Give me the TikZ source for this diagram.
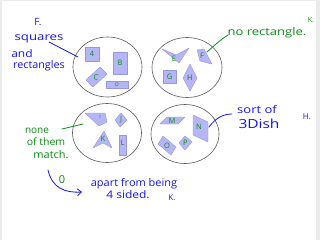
\documentclass[tikz,border=0pt]{standalone}
\usepackage{fontspec}
\setmainfont{Open Sans}
\usetikzlibrary{shapes.geometric,arrows.meta}
\definecolor{penblue}{RGB}{20,20,235}
\definecolor{pengreen}{RGB}{10,140,20}
\definecolor{shapefill}{RGB}{182,182,246}
\definecolor{shapeedge}{RGB}{150,150,225}
\definecolor{ringgray}{RGB}{90,90,90}
\tikzset{
  bluepen/.style={text=penblue, font=\fontsize{10}{10}\selectfont, inner sep=0pt},
  greenpen/.style={text=pengreen, font=\fontsize{10}{10}\selectfont, inner sep=0pt},
  blueline/.style={draw=penblue, line width=0.8pt, line cap=round},
  greenline/.style={draw=pengreen, line width=0.8pt, line cap=round},
  shp/.style={fill=shapefill, draw=shapeedge, line width=0.4pt, line join=round},
  lbl/.style={text=pengreen, font=\fontsize{7.5}{7.5}\selectfont, inner sep=0pt},
  ring/.style={draw=ringgray, ellipse, line width=0.6pt, inner sep=0pt},
}
\begin{document}
\begin{tikzpicture}[x=1pt,y=-1pt]
\useasboundingbox (0,0) rectangle (320,240);
\fill[black!8] (0,0) rectangle (320,240);
\fill[white] (2,1) rectangle (316,240);

% rings
\node[ring, minimum width=69pt, minimum height=60pt] (e1) at (107.5,67) {};
\node[ring, minimum width=70pt, minimum height=60pt] (e2) at (187,67.5) {};
\node[ring, minimum width=69pt, minimum height=59pt] (e3) at (107,133) {};
\node[ring, minimum width=68pt, minimum height=59pt] (e4) at (185,134) {};

% top-left shapes
\filldraw[shp] (85,47) rectangle (99,61);
\node[lbl] (l4) at (92,54) {4};
\filldraw[shp] (113,52) rectangle (127,74);
\node[lbl] (lB) at (120,63) {B};
\filldraw[shp] (86,80) -- (100,67) -- (107,74) -- (93,87) -- cycle;
\node[lbl, rotate=-10] (lC) at (96,77) {C};
\filldraw[shp] (106,81) rectangle (128,88);
\node[lbl, font=\fontsize{5}{5}\selectfont] (lD) at (117,84.5) {D};

% top-right shapes
\filldraw[shp] (162,49) -- (176,55) -- (189,48) -- (179,63) -- cycle;
\node[lbl] (lE) at (174,59) {E};
\filldraw[shp] (197,50) -- (204,49) -- (212,64) -- (200,61) -- cycle;
\node[lbl] (lF) at (202,56) {F};
\filldraw[shp] (163,70) rectangle (176,83);
\node[lbl] (lG) at (169.5,76.5) {G};
\filldraw[shp] (190,64) -- (197,78) -- (190,91) -- (183,78) -- cycle;
\node[lbl] (lH) at (190,78) {H};

% bottom-left shapes
\filldraw[shp] (85,113) -- (105,113) -- (107,122) -- (99,126) -- cycle;
\node[lbl, font=\fontsize{5}{5}\selectfont] (lI) at (100,117) {I};
\filldraw[shp] (121,113) -- (127,120) -- (120,127) -- (115,120) -- cycle;
\node[lbl] (lJ) at (121,120) {J};
\filldraw[shp] (104,131) -- (112,148) -- (103,143) -- (93,148) -- cycle;
\node[lbl] (lK) at (103,139) {K};
\filldraw[shp] (119,135) rectangle (126,155);
\node[lbl] (lL) at (122.5,143) {L};

% bottom-right shapes
\filldraw[shp] (160,124) -- (167,117) -- (185,117) -- (178,124) -- cycle;
\node[lbl] (lM) at (172,121) {M};
\filldraw[shp] (193,115) -- (208,122) -- (208,142) -- (193,135) -- cycle;
\node[lbl] (lN) at (199,127) {N};
\filldraw[shp] (163,136) -- (176,147) -- (171,155) -- (158,144) -- cycle;
\node[lbl] (lO) at (167,146) {O};
\filldraw[shp] (185,136) -- (192,142) -- (185,150) -- (179,143) -- cycle;
\node[lbl] (lP) at (185.5,143) {P};

% blue annotations top-left
\node[bluepen] (tF) at (38,22) {F.};
\node[bluepen] (tsq) at (39,39) {\scalebox{1.32}[1.05]{squares}};
\node[bluepen] (tand) at (22,54) {\scalebox{1.2}[1.05]{and}};
\node[bluepen] (trect) at (39,66) {\scalebox{1.08}[1.05]{rectangles}};
\coordinate (c1a) at (49,42);
\coordinate (c1b) at (78,57);
\draw[blueline] (c1a) -- (c1b);

% green annotation top-right
\node[greenpen] (tno) at (267,33) {\scalebox{1.3}[1.05]{no rectangle.}};
\node[greenpen, font=\fontsize{7}{7}\selectfont] (tK1) at (311,20) {K.};
\coordinate (c2a) at (228,35);
\coordinate (c2b) at (207,52);
\draw[greenline] (c2a) .. controls (220,40) and (214,46) .. (c2b);

% blue annotation bottom-right
\node[bluepen] (tsort) at (257,110) {\scalebox{1.3}[1.05]{sort of}};
\node[bluepen] (t3d) at (259,124) {\scalebox{1.55}[1.25]{3Dish}};
\node[bluepen, font=\fontsize{8}{8}\selectfont] (tH) at (307,117) {H.};
\coordinate (c3a) at (209,127);
\coordinate (c3b) at (232,114);
\draw[blueline] (c3a) .. controls (215,119) and (222,114) .. (c3b);

% green annotation bottom-left
\node[greenpen] (tnone) at (37,131) {none};
\node[greenpen] (tof) at (46,142) {\scalebox{1.05}[1]{of them}};
\node[greenpen] (tmatch) at (51,155) {\scalebox{1.1}[1.05]{match.}};
\coordinate (c4a) at (62,129);
\coordinate (c4b) at (83,124);
\draw[greenline] (c4a) -- (c4b);

% arrow and bottom text
\node[greenpen, font=\fontsize{11}{11}\selectfont] (t0) at (62,180) {0};
\coordinate (c5a) at (48,170);
\coordinate (c5b) at (82,192);
\draw[blueline, -{Straight Barb[length=4pt,width=7pt]}] (c5a) .. controls (52,188) and (65,193) .. (c5b);
\node[bluepen] (tapart) at (134,184) {\scalebox{1.1}[1.05]{apart from being}};
\node[bluepen] (tfour) at (128,195) {\scalebox{1.2}[1.05]{4 sided.}};
\node[bluepen, font=\fontsize{8}{8}\selectfont] (tK2) at (172,198) {K.};
\end{tikzpicture}
\end{document}
